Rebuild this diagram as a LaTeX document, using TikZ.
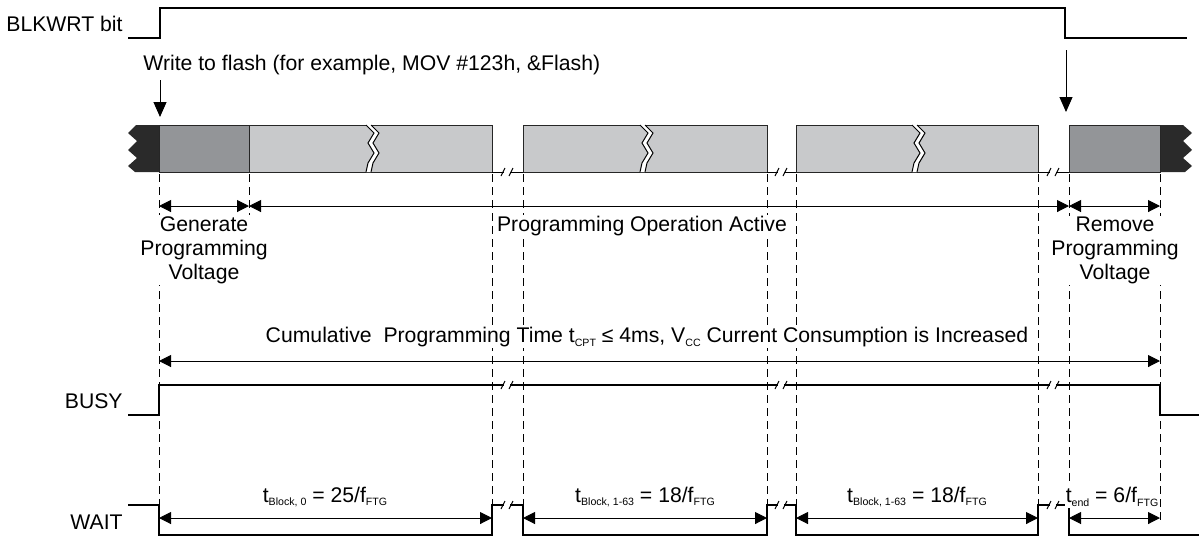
\documentclass[tikz,border=0pt]{standalone}
\usepackage{fontspec}
\setmainfont{Liberation Sans}
\usetikzlibrary{arrows.meta,positioning}
\definecolor{capdark}{HTML}{2A2A2A}
\definecolor{pgmdark}{HTML}{939598}
\definecolor{pgmlight}{HTML}{C8C9CB}
\tikzset{
  td/sig/.style={line width=1.3pt, line join=miter},
  td/thin/.style={line width=0.5pt},
  td/guide/.style={line width=0.5pt, dash pattern=on 4pt off 2.5pt},
  td/dim/.style={line width=0.5pt, {Triangle[length=6pt,width=6pt]}-{Triangle[length=6pt,width=6pt]}},
  td/hit/.style={line width=0.5pt, -{Triangle[length=7.5pt,width=6.5pt]}},
  td/block/.style={draw=black!85, line width=0.5pt},
  td/label/.style={font=\fontsize{10.6}{12}\selectfont, inner sep=0.5pt, align=center, fill=white}
}
\newcommand{\sbs}[1]{\raisebox{-0.35ex}{\fontsize{5.3}{6}\selectfont #1}}
\newcommand{\brkmark}[2]{%
  \fill[white] (#1-3,#2-4) rectangle (#1+3,#2+4);
  \draw[td/thin] (#1-6,#2+4) -- (#1-2,#2-4) (#1+2,#2+4) -- (#1+6,#2-4);}
\newcommand{\zigbreak}[1]{%
  \fill[white] (#1,125) -- (#1+8,133) -- (#1+2,143) -- (#1+8,153) -- (#1+2,163) -- (#1,172)
    -- (#1+5,172) -- (#1+7,163) -- (#1+13,153) -- (#1+7,143) -- (#1+13,133) -- (#1+5,125) -- cycle;
  \draw[td/thin] (#1,125) -- (#1+8,133) -- (#1+2,143) -- (#1+8,153) -- (#1+2,163) -- (#1,172);
  \draw[td/thin] (#1+5,125) -- (#1+13,133) -- (#1+7,143) -- (#1+13,153) -- (#1+7,163) -- (#1+5,172);}

\begin{document}
\begin{tikzpicture}[x=0.5pt, y=-0.5pt]
  \useasboundingbox (0,0) rectangle (1199,538);

  % signals
  \draw[td/sig] (128,38) -- (160,38) -- (160,8) -- (1065,8) -- (1065,38) -- (1187,38);
  \draw[td/sig] (128,415) -- (159,415) -- (159,385) -- (1160,385) -- (1160,415) -- (1199,415);
  \draw[td/sig] (128,505) -- (159,505) -- (159,535) -- (492,535) -- (492,505) -- (523,505)
    -- (523,535) -- (767,535) -- (767,505) -- (796,505) -- (796,535) -- (1038,535)
    -- (1038,505) -- (1069,505) -- (1069,535) -- (1199,535);
  \node[td/label, anchor=east] (blkwrt) at (124,24) {BLKWRT bit};
  \node[td/label, anchor=east] (busy) at (124,401) {BUSY};
  \node[td/label, anchor=east] (wait) at (124,522) {WAIT};

  % flash blocks
  \fill[capdark] (159,125) -- (136,125) -- (128,133) -- (137,141) -- (128,150) -- (137,158)
    -- (128,166) -- (135,172) -- (159,172) -- cycle;
  \fill[capdark] (1160,125) -- (1183,125) -- (1192,133) -- (1183,141) -- (1192,150) -- (1183,158)
    -- (1192,166) -- (1185,172) -- (1160,172) -- cycle;
  \draw[td/block, fill=pgmdark] (159,125) rectangle (249,172);
  \draw[td/block, fill=pgmdark] (1069,125) rectangle (1160,172);
  \foreach \xa/\xb/\xz in {249/492/366, 523/767/640, 796/1038/912} {
    \draw[td/block, fill=pgmlight] (\xa,125) rectangle (\xb,172);
    \zigbreak{\xz}
  }
  \foreach \xa/\xb/\xm in {492/523/507, 767/796/781, 1038/1069/1053} {
    \draw[td/thin] (\xa,172) -- (\xb,172);
    \brkmark{\xm}{172}
    \brkmark{\xm}{385}
    \brkmark{\xm}{505}
  }

  % guides
  \foreach \gx/\gb in {159/505, 492/505, 523/505, 767/505, 796/505, 1038/505, 1069/505, 1160/522}
    \draw[td/guide] (\gx,174) -- (\gx,\gb);
  \draw[td/guide] (249,174) -- (249,224);

  % events
  \node[td/label, anchor=west] (write) at (142,65) {Write to flash (for example, MOV \#123h, \&Flash)};
  \coordinate (wr) at (160,80);
  \coordinate (wrhit) at (160,117);
  \draw[td/hit] (wr) -- (wrhit);
  \coordinate (rm) at (1066,50);
  \coordinate (rmhit) at (1066,112);
  \draw[td/hit] (rm) -- (rmhit);

  % phases
  \draw[td/dim] (159,206) -- (249,206);
  \draw[td/dim] (249,206) -- (1069,206);
  \draw[td/dim] (1069,206) -- (1160,206);
  \node[td/label] (gen) at (204,250) {Generate\\Programming\\Voltage};
  \node[td/label] (active) at (642,226) {Programming Operation Active};
  \node[td/label] (remove) at (1115,250) {Remove\\Programming\\Voltage};

  \draw[td/dim] (159,361) -- (1160,361);
  \node[td/label] (cpt) at (647,337) {Cumulative\ \ Programming Time t\sbs{CPT} ≤ 4ms, V\sbs{CC} Current Consumption is Increased};

  % wait timing
  \foreach \xa/\xb in {159/492, 523/767, 796/1038, 1069/1160}
    \draw[td/dim] (\xa,518) -- (\xb,518);
  \node[td/label] (blk0) at (325,497) {t\sbs{Block, 0} = 25/f\sbs{FTG}};
  \node[td/label] (blk1) at (645,497) {t\sbs{Block, 1-63} = 18/f\sbs{FTG}};
  \node[td/label] (blk2) at (917,497) {t\sbs{Block, 1-63} = 18/f\sbs{FTG}};
  \node[td/label] (tend) at (1112,497) {t\sbs{end} = 6/f\sbs{FTG}};
\end{tikzpicture}
\end{document}
